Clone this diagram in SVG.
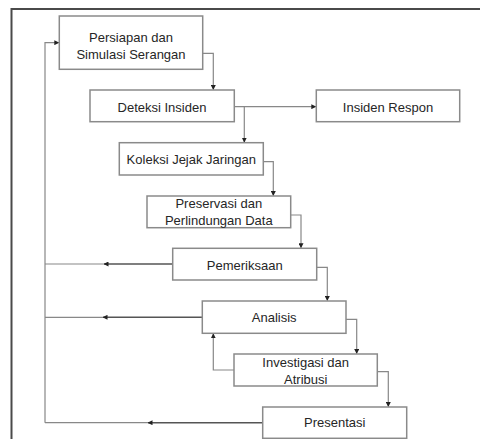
<svg xmlns="http://www.w3.org/2000/svg" width="480" height="439" viewBox="0 0 480 439">
<defs>
<marker id="ah" viewBox="0 0 10 10" refX="9" refY="5" markerWidth="5" markerHeight="5" orient="auto" markerUnits="userSpaceOnUse">
<path d="M0,0 L10,5 L0,10 z" fill="#222"/>
</marker>
</defs>
<style>
.box{fill:#fff;stroke:#8a8a8a;stroke-width:1.5}
.t{font-family:"Liberation Sans",Arial,sans-serif;font-size:13px;fill:#262626;text-anchor:middle}
.c{fill:none;stroke:#888;stroke-width:1.2}
.d{fill:none;stroke:#555;stroke-width:1.4}
</style>
<rect width="480" height="439" fill="#fff"/>
<path d="M11.5,439 V9 H480" fill="none" stroke="#4a4a4a" stroke-width="2"/>
<g id="connectors">
<path class="c" d="M203,53.3 H213.3 V89.5" marker-end="url(#ah)"/>
<path class="c" d="M234.3,106.7 H315.8" marker-end="url(#ah)"/>
<path class="c" d="M244.3,106.7 V142.2" marker-end="url(#ah)"/>
<path class="c" d="M263.3,161.7 H273.3 V195.5" marker-end="url(#ah)"/>
<path class="c" d="M290.7,215 H301 V247.8" marker-end="url(#ah)"/>
<path class="c" d="M316.7,267.3 H327.3 V300.5" marker-end="url(#ah)"/>
<path class="c" d="M346,319.3 H356.7 V353.5" marker-end="url(#ah)"/>
<path class="c" d="M377.3,371.7 H388.3 V406.5" marker-end="url(#ah)"/>
<path class="c" d="M234,370 H213.3 V333.8" marker-end="url(#ah)"/>
<path class="c" d="M45,422.7 V42.7 H58.8" marker-end="url(#ah)"/>
<path class="d" d="M172.7,264 H104" marker-end="url(#ah)"/>
<path class="c" d="M104,264 H45"/>
<path class="d" d="M202.3,317.3 H103" marker-end="url(#ah)"/>
<path class="c" d="M103,317.3 H45"/>
<path class="d" d="M262.7,422.7 H148" marker-end="url(#ah)"/>
<path class="c" d="M148,422.7 H45"/>
</g>
<g id="n1"><rect class="box" x="59.3" y="16" width="143.4" height="53.3"/><text class="t" x="131" y="41.5">Persiapan dan</text><text class="t" x="131" y="58.5">Simulasi Serangan</text></g>
<g id="n2"><rect class="box" x="90" y="90" width="144.3" height="31.7"/><text class="t" x="162" y="111.5">Deteksi Insiden</text></g>
<g id="n3"><rect class="box" x="316.3" y="90" width="143.4" height="31.7"/><text class="t" x="388" y="111.5">Insiden Respon</text></g>
<g id="n4"><rect class="box" x="119.3" y="142.7" width="144" height="32.3"/><text class="t" x="191.3" y="164">Koleksi Jejak Jaringan</text></g>
<g id="n5"><rect class="box" x="147" y="196" width="143.7" height="31.7"/><text class="t" x="218.8" y="208">Preservasi dan</text><text class="t" x="218.8" y="225.3">Perlindungan Data</text></g>
<g id="n6"><rect class="box" x="172.7" y="248.3" width="144" height="31.7"/><text class="t" x="244.7" y="269.5">Pemeriksaan</text></g>
<g id="n7"><rect class="box" x="202.3" y="301" width="143.7" height="32.3"/><text class="t" x="274.2" y="321.5">Analisis</text></g>
<g id="n8"><rect class="box" x="234" y="354" width="143.3" height="32"/><text class="t" x="305.7" y="366.5">Investigasi dan</text><text class="t" x="305.7" y="383.8">Atribusi</text></g>
<g id="n9"><rect class="box" x="262.7" y="407" width="144" height="31.3"/><text class="t" x="334.7" y="427.3">Presentasi</text></g>
</svg>
